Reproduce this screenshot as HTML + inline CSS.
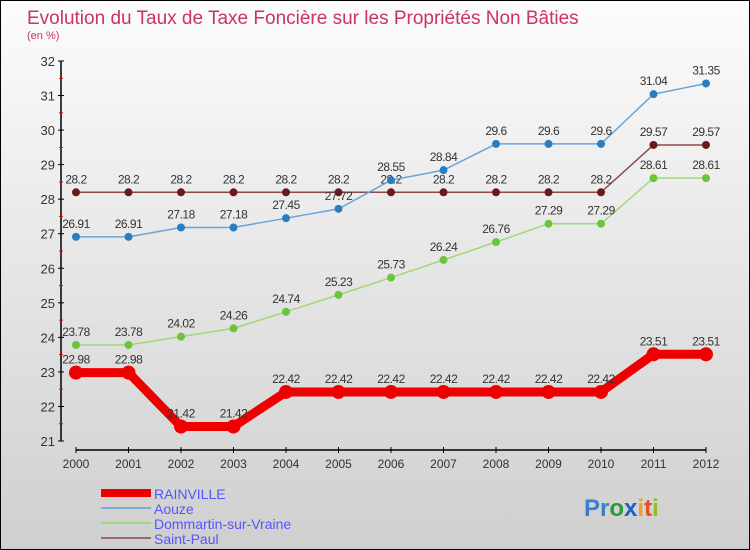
<!DOCTYPE html>
<html><head><meta charset="utf-8"><style>
body{margin:0}
#c{position:relative;width:748px;height:548px;border:1px solid #000;background:linear-gradient(#fcfcfc,#cfcfcf);font-family:"Liberation Sans",sans-serif;overflow:hidden}
</style></head><body>
<div id="c">
<svg width="748" height="548" id="svg">
<text x="26" y="23" font-size="19" fill="#c8326e">Evolution du Taux de Taxe Foncière sur les Propriétés Non Bâties</text>
<text x="26" y="38" font-size="11" fill="#c8326e">(en %)</text>
<g id="axes"></g><g id="series"></g>
<g>
<rect x="100" y="488" width="50" height="8" fill="#e00"/>
<text x="153" y="498" font-size="14" fill="#55f">RAINVILLE</text>
<line x1="100" y1="507" x2="150" y2="507" stroke="#7aaed6" stroke-width="2"/>
<text x="153" y="513" font-size="14" fill="#55f">Aouze</text>
<line x1="100" y1="522" x2="150" y2="522" stroke="#9fd87a" stroke-width="2"/>
<text x="153" y="528" font-size="14" fill="#55f">Dommartin-sur-Vraine</text>
<line x1="100" y1="537" x2="150" y2="537" stroke="#9a6a6a" stroke-width="2"/>
<text x="153" y="543" font-size="14" fill="#55f">Saint-Paul</text>
</g>
<text x="583" y="515" font-size="24" font-weight="bold"><tspan fill="#3a7fd0">Pr</tspan><tspan fill="#2a9a3a">o</tspan><tspan fill="#1a5fd0">x</tspan><tspan fill="#f0a020">i</tspan><tspan fill="#e05020">t</tspan><tspan fill="#90c020">i</tspan></text>
</svg>
</div>
<script>
const years=[2000,2001,2002,2003,2004,2005,2006,2007,2008,2009,2010,2011,2012];
const rainville=[22.98,22.98,21.42,21.42,22.42,22.42,22.42,22.42,22.42,22.42,22.42,23.51,23.51];
const aouze=[26.91,26.91,27.18,27.18,27.45,27.72,28.55,28.84,29.6,29.6,29.6,31.04,31.35];
const dommartin=[23.78,23.78,24.02,24.26,24.74,25.23,25.73,26.24,26.76,27.29,27.29,28.61,28.61];
const saintPaul=[28.2,28.2,28.2,28.2,28.2,28.2,28.2,28.2,28.2,28.2,28.2,29.57,29.57];
const yTicks=[21,22,23,24,25,26,27,28,29,30,31,32];
const NS="http://www.w3.org/2000/svg";
const X=i=>75+i*52.5;
const Y=v=>440-(v-21)*(380/11);
function mk(t,a,p){const e=document.createElementNS(NS,t);for(const k in a)e.setAttribute(k,a[k]);p.appendChild(e);return e;}
const ax=document.getElementById('axes');
let e=mk('line',{x1:60,y1:60,x2:60,y2:440,stroke:'#000','stroke-width':1.5},ax);


e=mk('line',{x1:75,y1:449,x2:705,y2:449,stroke:'#000','stroke-width':1.5},ax);


yTicks.forEach(v=>{
 mk('line',{x1:57,x2:63,y1:Y(v),y2:Y(v),stroke:'#000'},ax);
 if(v<32)mk('line',{x1:58,x2:62,y1:Y(v+0.5),y2:Y(v+0.5),stroke:'#e00'},ax);
 const t=mk('text',{x:54,y:Y(v)+5,'font-size':13,fill:'#333','text-anchor':'end'},ax);t.textContent=v;
 
 
});
years.forEach((y,i)=>{
 mk('line',{x1:X(i),x2:X(i),y1:446,y2:452,stroke:'#000'},ax);
 const t=mk('text',{x:X(i),y:467,'font-size':12,fill:'#333','text-anchor':'middle'},ax);t.textContent=y;
 
 
});
const sg=document.getElementById('series');
function series(vals,color,dot,w,r,name){
 const g=mk('g',{},sg);
 
 
 mk('polyline',{points:vals.map((v,i)=>X(i)+','+Y(v)).join(' '),fill:'none',stroke:color,'stroke-width':w},g);
 vals.forEach((v,i)=>{
  const c=mk('circle',{cx:X(i),cy:Y(v),r:r,fill:dot},g);
  
  
  const t=mk('text',{x:X(i),y:Y(v)-9,'font-size':12,fill:'#333','text-anchor':'middle','letter-spacing':'-0.5'},g);t.textContent=v;
  
  
 });
}
series(saintPaul,'#8a4a4a','#6a1a1a',1.5,4,'saint-paul-series');
series(aouze,'#6aa4d8','#2a7ec0',1.5,4,'aouze-series');
series(dommartin,'#9fd87a','#6cc43a',1.5,4,'dommartin-series');
series(rainville,'#e00','#e00',9,7,'rainville-series');
</script>
</body></html>
